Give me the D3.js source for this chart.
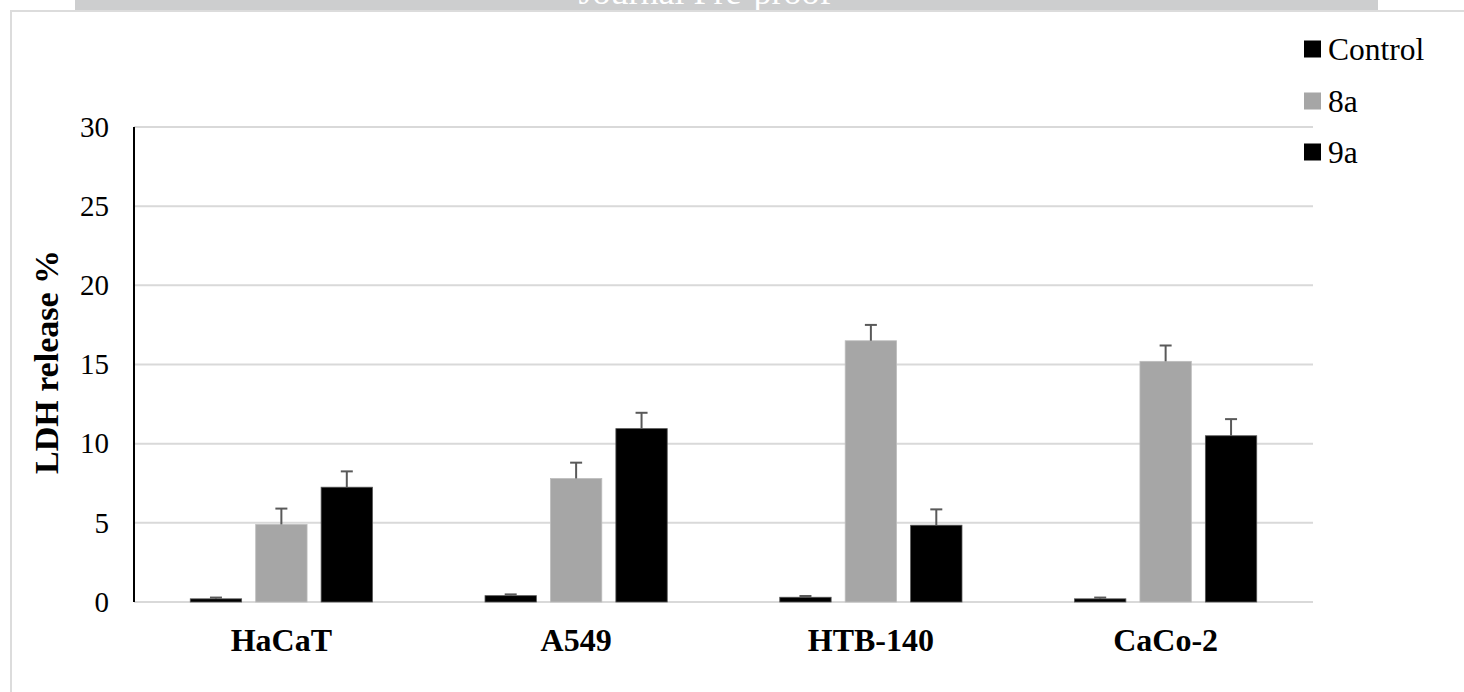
<!DOCTYPE html>
<html>
<head>
<meta charset="utf-8">
<script src="https://cdn.jsdelivr.net/npm/d3@7"></script>
<style>
  html, body { margin: 0; padding: 0; background: #fff; }
  svg { display: block; }
  text { font-family: "Liberation Serif", "Times New Roman", serif; }
</style>
</head>
<body>
<svg id="chart" width="1464" height="692"></svg>
<script>
const categories = ["HaCaT", "A549", "HTB-140", "CaCo-2"];
const seriesNames = ["Control", "8a", "9a"];
const seriesColors = ["#000000", "#a6a6a6", "#000000"];
const controlValues = [0.2, 0.4, 0.3, 0.2];
const values8a = [4.9, 7.8, 16.5, 15.2];
const values9a = [7.25, 10.95, 4.85, 10.5];
const controlErrors = [0.08, 0.08, 0.08, 0.08];
const errors8a = [1.0, 1.0, 1.0, 1.0];
const errors9a = [1.0, 1.0, 1.0, 1.05];
const yTicks = [0, 5, 10, 15, 20, 25, 30];
const yTitle = "LDH release %";
const bannerText = "Journal Pre-proof";

const seriesValues = [controlValues, values8a, values9a];
const seriesErrors = [controlErrors, errors8a, errors9a];

const svg = d3.select("#chart");

// banner
svg.append("rect").attr("x", 75).attr("y", 0).attr("width", 1303).attr("height", 10).attr("fill", "#cdcecf");
svg.append("text").attr("x", 705).attr("y", 3.5).attr("text-anchor", "middle")
  .attr("font-size", 36).attr("fill", "#ffffff").text(bannerText);

// frame
svg.append("path").attr("d", "M11,692 V11 H1464").attr("fill", "none")
  .attr("stroke", "#dcdcdc").attr("stroke-width", 2);

const margin = { left: 134, right: 1313, top: 127, bottom: 602 };
const x0 = d3.scaleBand().domain(categories).range([margin.left, margin.right]).paddingInner(0).paddingOuter(0);
const x1 = d3.scaleBand().domain(seriesNames).range([0, x0.bandwidth()]).paddingInner(0.215).paddingOuter(0.86);
const y = d3.scaleLinear().domain([0, 30]).range([margin.bottom, margin.top]);

// gridlines
svg.append("g").selectAll("line").data(yTicks).join("line")
  .attr("x1", margin.left).attr("x2", margin.right)
  .attr("y1", d => y(d)).attr("y2", d => y(d))
  .attr("stroke", "#d9d9d9").attr("stroke-width", 2);

// y axis
const yAxis = d3.axisLeft(y).tickValues(yTicks).tickSize(0).tickPadding(25);
const gy = svg.append("g").attr("transform", `translate(${margin.left},0)`).call(yAxis);
gy.select(".domain").remove();
gy.selectAll("text").attr("font-size", 29).attr("fill", "#000")
  .style("font-family", '"Liberation Serif", serif');
svg.append("line").attr("x1", margin.left).attr("x2", margin.left)
  .attr("y1", margin.top).attr("y2", margin.bottom)
  .attr("stroke", "#000").attr("stroke-width", 2);

// bars
const groups = svg.append("g").selectAll("g").data(categories).join("g")
  .attr("transform", d => `translate(${x0(d)},0)`);

groups.each(function(cat, ci) {
  const g = d3.select(this);
  seriesNames.forEach((s, si) => {
    const v = seriesValues[si][ci];
    const e = seriesErrors[si][ci];
    const bx = x1(s);
    const bw = x1.bandwidth();
    g.append("rect").attr("x", bx).attr("y", y(v)).attr("width", bw)
      .attr("height", y(0) - y(v)).attr("fill", seriesColors[si])
      .attr("stroke", si === 1 ? "#bdbdbd" : "#555").attr("stroke-width", 0.8);
    const cx = bx + bw / 2;
    g.append("line").attr("x1", cx).attr("x2", cx).attr("y1", y(v)).attr("y2", y(v + e))
      .attr("stroke", "#595959").attr("stroke-width", 2);
    g.append("line").attr("x1", cx - 6).attr("x2", cx + 6).attr("y1", y(v + e)).attr("y2", y(v + e))
      .attr("stroke", "#595959").attr("stroke-width", 2);
  });
});

// x labels
svg.append("g").selectAll("text").data(categories).join("text")
  .attr("x", d => x0(d) + x0.bandwidth() / 2).attr("y", 651)
  .attr("text-anchor", "middle").attr("font-size", 32).attr("font-weight", "bold")
  .text(d => d);

// y title
svg.append("text").attr("transform", "translate(58,362) rotate(-90)")
  .attr("text-anchor", "middle").attr("font-size", 34).attr("font-weight", "bold")
  .text(yTitle);

// legend
const legY = [49, 101, 152];
const leg = svg.append("g").selectAll("g").data(seriesNames).join("g")
  .attr("transform", (d, i) => `translate(1304,${legY[i]})`);
leg.append("rect").attr("x", 0).attr("y", -8.5).attr("width", 17).attr("height", 17)
  .attr("fill", (d, i) => seriesColors[i]);
leg.append("text").attr("x", 24).attr("y", 10.5).attr("font-size", 31.5).text(d => d);
</script>
</body>
</html>
